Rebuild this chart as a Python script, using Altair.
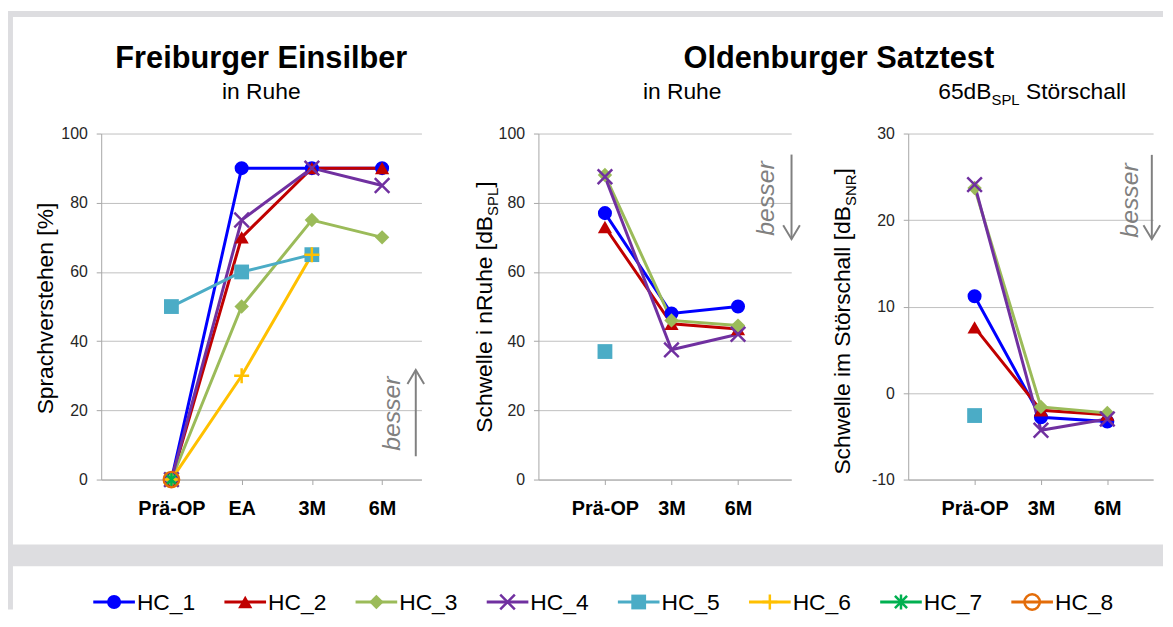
import altair as alt
import pandas as pd

FONT = "Liberation Sans"

# ---------------- data ----------------
series = ["HC_1", "HC_2", "HC_3", "HC_4", "HC_5", "HC_6", "HC_7", "HC_8"]
colors = ["#0000FF", "#C00000", "#9BBB59", "#7030A0", "#4BACC6", "#FFC000", "#00B050", "#E36C09"]

fr_labels = ["Prä-OP", "EA", "3M", "6M"]
fr_values = {
    "HC_1": [0, 90, 90, 90],
    "HC_2": [0, 70, 90, 90],
    "HC_3": [0, 50, 75, 70],
    "HC_4": [0, 75, 90, 85],
    "HC_5": [50, 60, 65, None],
    "HC_6": [0, 30, 65, None],
    "HC_7": [0, None, None, None],
    "HC_8": [0, None, None, None],
}

olsa_labels = ["Prä-OP", "3M", "6M"]
olsa_quiet = {
    "HC_1": [77, 48, 50],
    "HC_2": [73, 45, 43.5],
    "HC_3": [88, 46, 44.5],
    "HC_4": [87.5, 37.5, 42],
    "HC_5": [37, None, None],
}
olsa_noise = {
    "HC_1": [11.2, -2.8, -3.3],
    "HC_2": [7.6, -2.0, -2.5],
    "HC_3": [23.7, -1.6, -2.3],
    "HC_4": [24.1, -4.3, -3.0],
    "HC_5": [-2.6, None, None],
}

# ---------------- styles ----------------
X_PATH = "M-1,-1L1,1M-1,1L1,-1"
PLUS_PATH = "M-1,0L1,0M0,-1L0,1"
STAR_PATH = "M0,-1L0,1M-0.8,-0.8L0.8,0.8M-0.8,0.8L0.8,-0.8"
shape_range = ["circle", "triangle-up", "diamond", X_PATH, "square", PLUS_PATH, STAR_PATH, "circle"]
size_range = [200, 240, 240, 180, 150, 220, 280, 140]
filled_series = ["HC_1", "HC_2", "HC_3", "HC_5"]
stroked_series = ["HC_4", "HC_6", "HC_7", "HC_8"]

GRID = "#BFBFBF"
AXC = "#A6A6A6"
GREY_BG = "#DDDDE0"
ARROW = "#808080"

color_scale = alt.Scale(domain=series, range=colors)
shape_scale = alt.Scale(domain=series, range=shape_range)
size_scale = alt.Scale(domain=series, range=size_range)

W = {' ': 278, '[': 278, ']': 278, '%': 889, '-': 333, '_': 556,
     '0': 556, '1': 556, '2': 556, '3': 556, '4': 556, '5': 556, '6': 556, '7': 556, '8': 556, '9': 556,
     'A': 667, 'B': 667, 'C': 722, 'D': 722, 'E': 667, 'F': 611, 'H': 722, 'L': 556, 'N': 722,
     'O': 778, 'P': 667, 'R': 722, 'S': 667,
     'a': 556, 'b': 556, 'c': 500, 'd': 556, 'e': 556, 'h': 556, 'i': 222, 'l': 222, 'm': 833,
     'n': 556, 'o': 556, 'p': 556, 'r': 333, 's': 500, 't': 278, 'u': 556, 'v': 500, 'w': 722,
     'ä': 556, 'ö': 556}


def tw(s, size):
    return sum(W.get(c, 556) for c in s) * size / 1000.0


ONE = alt.Data(values=[{"a": 1}])


def long_df(values, labels):
    rows = []
    for s, vals in values.items():
        for i, v in enumerate(vals):
            if v is not None:
                rows.append({"series": s, "pos": i + 1, "label": labels[i], "value": v})
    return pd.DataFrame(rows)


def data_layer(df, labels, xdom, ydom, yvals):
    expr = "[" + ",".join(["''"] + ["'" + l + "'" for l in labels]) + "][datum.value]"
    x = alt.X("pos:Q", scale=alt.Scale(domain=xdom, nice=False, zero=False),
              axis=alt.Axis(values=list(range(1, len(labels) + 1)), labelExpr=expr, title=None,
                            grid=False, tickSize=5, tickColor=AXC, domainColor=AXC,
                            labelFont=FONT, labelFontSize=20, labelFontWeight="bold",
                            labelColor="black", labelPadding=14, labelFlush=False,
                            labelOverlap=False))
    y = alt.Y("value:Q", scale=alt.Scale(domain=ydom, nice=False, zero=False),
              axis=alt.Axis(values=yvals, title=None, grid=True, gridColor=GRID, gridWidth=1,
                            tickSize=5, tickColor=AXC, domainColor=AXC, labelFont=FONT,
                            labelFontSize=16, labelColor="#262626", labelPadding=9,
                            labelExpr="'' + datum.value", labelOverlap=False))
    col = alt.Color("series:N", scale=color_scale, legend=None)
    shp = alt.Shape("series:N", scale=shape_scale, legend=None)
    siz = alt.Size("series:O", scale=size_scale, legend=None)
    base = alt.Chart(df)
    line = base.mark_line(strokeWidth=3).encode(x=x, y=y, color=col)
    pf = base.transform_filter(alt.FieldOneOfPredicate(field="series", oneOf=filled_series)).mark_point(
        filled=True, opacity=1, strokeWidth=0).encode(x=x, y=y, color=col, shape=shp, size=siz)
    ps = base.transform_filter(alt.FieldOneOfPredicate(field="series", oneOf=stroked_series)).mark_point(
        filled=False, opacity=1, strokeWidth=2.5).encode(x=x, y=y, color=col, shape=shp, size=siz)
    return alt.layer(line, pf, ps)


def txt(s, x, y, size, **kw):
    return alt.Chart(ONE).mark_text(text=s, font=FONT, fontSize=size, **kw).encode(
        x=alt.value(x), y=alt.value(y))


def rect(x1, x2, y1, y2, color):
    return alt.Chart(ONE).mark_rect(color=color).encode(
        x=alt.value(x1), x2=alt.value(x2), y=alt.value(y1), y2=alt.value(y2))


def rot_title(pieces, bx, cy, size, sub_size, sub_shift):
    widths = [tw(t, sub_size if sub else size) for t, sub in pieces]
    y = cy + sum(widths) / 2.0
    out = []
    for (t, sub), w in zip(pieces, widths):
        out.append(txt(t.strip(), bx + (sub_shift if sub else 0), y - (tw(" ", size) if t.startswith(" ") else 0),
                       sub_size if sub else size,
                       angle=270, align="left", baseline="alphabetic", color="black"))
        y -= w
    return out


def hor_title(pieces, cx, by, size, sub_size, sub_shift):
    widths = [tw(t, sub_size if sub else size) for t, sub in pieces]
    x = cx - sum(widths) / 2.0
    out = []
    for (t, sub), w in zip(pieces, widths):
        out.append(txt(t.strip(), x + (tw(" ", size) if t.startswith(" ") else 0),
                       by + (sub_shift if sub else 0), sub_size if sub else size,
                       align="left", baseline="alphabetic", color="black"))
        x += w
    return out


def arrow(x, y_tip, y_end, up):
    path = "M-0.6,1L0,0L0.6,1" if up else "M-0.6,-1L0,0L0.6,-1"
    shaft = alt.Chart(ONE).mark_rule(color=ARROW, strokeWidth=2).encode(
        x=alt.value(x), y=alt.value(min(y_tip, y_end)), y2=alt.value(max(y_tip, y_end)))
    head = alt.Chart(ONE).mark_point(shape=path, size=784, filled=False, color=ARROW,
                                      strokeWidth=2, opacity=1).encode(
        x=alt.value(x), y=alt.value(y_tip))
    return [shaft, head]


def besser(x, y):
    return txt("besser", x, y, 25, angle=270, align="center", baseline="alphabetic",
               fontStyle="italic", color=ARROW)


TITLE = 31
SUB = 23
SUBSUB = 15

# ---------------- panel 1 ----------------
H = 349
W1, W2, W3 = 323, 255, 247

d1 = data_layer(long_df(fr_values, fr_labels), fr_labels, [0, 4.56], [0, 100], [0, 20, 40, 60, 80, 100])

bg = [
    rect(-94, -89, -123.5, 480, GREY_BG),
    rect(-94, 1071, -123.5, -117.5, GREY_BG),
    rect(-94, 1071, 414.5, 436.5, GREY_BG),
]

leg_df = pd.DataFrame({"series": series})
lx = alt.X("series:N", scale=alt.Scale(type="point", domain=series, range=[13, 939], padding=0), axis=None)
ly = alt.value(472.5)
lcol = alt.Color("series:N", scale=color_scale, legend=None)
lshp = alt.Shape("series:N", scale=shape_scale, legend=None)
lsiz = alt.Size("series:O", scale=size_scale, legend=None)
leg_line = alt.Chart(leg_df).mark_point(shape="M-1,0L1,0", size=1764, filled=False, strokeWidth=3,
                                        opacity=1).encode(x=lx, y=ly, color=lcol)
leg_pf = alt.Chart(leg_df).transform_filter(
    alt.FieldOneOfPredicate(field="series", oneOf=filled_series)).mark_point(
    filled=True, opacity=1, strokeWidth=0).encode(x=lx, y=ly, color=lcol, shape=lshp, size=lsiz)
leg_ps = alt.Chart(leg_df).transform_filter(
    alt.FieldOneOfPredicate(field="series", oneOf=stroked_series)).mark_point(
    filled=False, opacity=1, strokeWidth=2.5).encode(x=lx, y=ly, color=lcol, shape=lshp, size=lsiz)
leg_txt = alt.Chart(leg_df).mark_text(align="left", baseline="middle", dx=23, dy=1, font=FONT,
                                      fontSize=SUB, color="black").encode(x=lx, y=ly, text="series:N")
legend = alt.layer(leg_line, leg_pf, leg_ps, leg_txt)

t1 = [
    txt("Freiburger Einsilber", 161.5, -66.5, TITLE, fontWeight="bold", align="center",
        baseline="alphabetic", color="black"),
    txt("in Ruhe", 161.5, -34.5, SUB, align="center", baseline="alphabetic", color="black"),
] + rot_title([("Sprachverstehen [%]", False)], -49, 176.5, SUB, SUBSUB, 6) + [besser(301, 282.5)] + \
    arrow(317.3, 238.5, 325.5, True)

p1 = alt.layer(*bg, d1, legend, *t1).resolve_scale(x="independent").properties(width=W1, height=H)

# ---------------- panel 2 ----------------
d2 = data_layer(long_df(olsa_quiet, olsa_labels), olsa_labels, [0, 3.8], [0, 100], [0, 20, 40, 60, 80, 100])
t2 = [
    txt("Oldenburger Satztest", 303, -66.5, TITLE, fontWeight="bold", align="center",
        baseline="alphabetic", color="black"),
    txt("in Ruhe", 145, -34.5, SUB, align="center", baseline="alphabetic", color="black"),
] + rot_title([("Schwelle i nRuhe [dB", False), ("SPL", True), ("]", False)], -46.5, 175, SUB, SUBSUB, 6) + \
    [besser(238, 65.5)] + arrow(255.3, 106.5, 21.2, False)
p2 = alt.layer(d2, *t2).properties(width=W2, height=H)

# ---------------- panel 3 ----------------
d3 = data_layer(long_df(olsa_noise, olsa_labels), olsa_labels, [0, 3.69], [-10, 30], [-10, 0, 10, 20, 30])
t3 = hor_title([("65dB", False), ("SPL", True), (" Störschall", False)], 125, -34.5, SUB, SUBSUB, 6) + \
    rot_title([("Schwelle im Störschall [dB", False), ("SNR", True), ("]", False)], -59, 189.5, SUB, SUBSUB, 6) + \
    [besser(232, 67.5)] + arrow(245.7, 106.5, 21.5, False)
p3 = alt.layer(d3, *t3).properties(width=W3, height=H)

chart = alt.hconcat(p1, p2, p3, spacing=118, bounds="flush").properties(
    padding=0, background="white").configure_view(strokeWidth=0)

chart.save("out.html", embed_options={"renderer": "svg", "actions": False})
